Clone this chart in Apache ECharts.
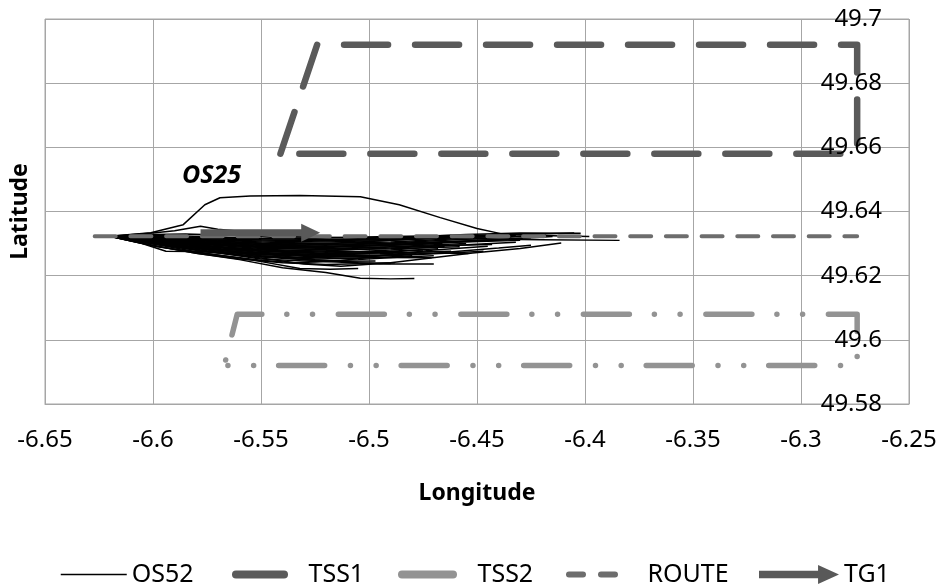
<!DOCTYPE html>
<html>
<head>
<meta charset="utf-8">
<title>OS52 tracks</title>
<script src="https://cdn.jsdelivr.net/npm/echarts@6/dist/echarts.min.js"></script>
<style>
  html, body { margin: 0; padding: 0; background: #fff; }
  #chart { width: 944px; height: 586px; }
</style>
</head>
<body>
<div id="chart"></div>
<script>
// --- eixos (rótulos dos ticks) ---
const xTicks = [-6.65, -6.6, -6.55, -6.5, -6.45, -6.4, -6.35, -6.3, -6.25];
const yTicks = [49.58, 49.6, 49.62, 49.64, 49.66, 49.68, 49.7];

// --- zonas / rota / alvo  [lon, lat] ---
const tss1  = [[-6.541, 49.658], [-6.524, 49.692], [-6.274, 49.692], [-6.274, 49.658], [-6.541, 49.658]];
const tss2  = [[-6.567, 49.592], [-6.561, 49.608], [-6.274, 49.608], [-6.274, 49.592], [-6.567, 49.592]];
const route = [[-6.627, 49.6323], [-6.274, 49.6323]];
const tg1   = [[-6.578, 49.6334], [-6.527, 49.6334]];

// --- trajetórias OS52 (aprox.) ---
const os01 = [[-6.620, 49.6323], [-6.601, 49.6334], [-6.586, 49.6359], [-6.576, 49.6421], [-6.569, 49.6443], [-6.555, 49.6448], [-6.532, 49.6450], [-6.504, 49.6446], [-6.486, 49.6421], [-6.467, 49.6381], [-6.450, 49.6347], [-6.439, 49.6331], [-6.421, 49.6325], [-6.398, 49.6322]];
const os02 = [[-6.620, 49.6323], [-6.600, 49.6318], [-6.575, 49.6312], [-6.550, 49.6305], [-6.520, 49.6300], [-6.490, 49.6305], [-6.460, 49.6315], [-6.420, 49.6312], [-6.384, 49.6310]];
const os03 = [[-6.620, 49.6323], [-6.600, 49.6325], [-6.575, 49.6322], [-6.550, 49.6316], [-6.520, 49.6312], [-6.490, 49.6318], [-6.455, 49.6328], [-6.430, 49.6333], [-6.402, 49.6332]];
const os04 = [[-6.620, 49.6323], [-6.600, 49.6300], [-6.575, 49.6275], [-6.550, 49.6255], [-6.530, 49.6236], [-6.513, 49.6229], [-6.490, 49.6240], [-6.452, 49.6271], [-6.430, 49.6285], [-6.411, 49.6302]];
const os05 = [[-6.620, 49.6323], [-6.600, 49.6295], [-6.580, 49.6270], [-6.560, 49.6250], [-6.540, 49.6225], [-6.520, 49.6210], [-6.504, 49.6192], [-6.490, 49.6190], [-6.479, 49.6191]];
const os06 = [[-6.620, 49.6323], [-6.600, 49.6302], [-6.575, 49.6285], [-6.550, 49.6268], [-6.520, 49.6260], [-6.495, 49.6257], [-6.471, 49.6256]];
const os07 = [[-6.620, 49.6323], [-6.600, 49.6310], [-6.575, 49.6292], [-6.550, 49.6282], [-6.520, 49.6276], [-6.490, 49.6272], [-6.454, 49.6269]];
const os08 = [[-6.620, 49.6323], [-6.600, 49.6312], [-6.575, 49.6300], [-6.550, 49.6290], [-6.520, 49.6285], [-6.490, 49.6290], [-6.443, 49.6297]];
const os09 = [[-6.620, 49.6323], [-6.600, 49.6320], [-6.575, 49.6318], [-6.550, 49.6315], [-6.520, 49.6318], [-6.490, 49.6322], [-6.460, 49.6325], [-6.440, 49.6326]];
const os10 = [[-6.620, 49.6323], [-6.600, 49.6315], [-6.575, 49.6305], [-6.550, 49.6298], [-6.520, 49.6295], [-6.490, 49.6300], [-6.450, 49.6310], [-6.425, 49.6318]];
const os11 = [[-6.620, 49.6323], [-6.600, 49.6308], [-6.575, 49.6292], [-6.550, 49.6278], [-6.520, 49.6270], [-6.490, 49.6280], [-6.465, 49.6292]];
const os12 = [[-6.620, 49.6323], [-6.600, 49.6305], [-6.575, 49.6280], [-6.550, 49.6262], [-6.525, 49.6252], [-6.500, 49.6255], [-6.480, 49.6262]];
const os13 = [[-6.620, 49.6323], [-6.598, 49.6290], [-6.575, 49.6268], [-6.550, 49.6248], [-6.535, 49.6240], [-6.515, 49.6245], [-6.495, 49.6262], [-6.470, 49.6280], [-6.445, 49.6292]];
const os14 = [[-6.620, 49.6323], [-6.600, 49.6333], [-6.590, 49.6340], [-6.578, 49.6354], [-6.570, 49.6345], [-6.555, 49.6335], [-6.540, 49.6322], [-6.510, 49.6318], [-6.480, 49.6320], [-6.450, 49.6325], [-6.420, 49.6330], [-6.405, 49.6333]];
const os15 = [[-6.620, 49.6323], [-6.600, 49.6318], [-6.575, 49.6310], [-6.550, 49.6302], [-6.520, 49.6300], [-6.495, 49.6308], [-6.470, 49.6318], [-6.445, 49.6322]];
const os16 = [[-6.620, 49.6323], [-6.600, 49.6312], [-6.575, 49.6296], [-6.550, 49.6285], [-6.520, 49.6282], [-6.495, 49.6288], [-6.475, 49.6295], [-6.455, 49.6300]];
const os17 = [[-6.620, 49.6323], [-6.600, 49.6300], [-6.575, 49.6278], [-6.550, 49.6258], [-6.525, 49.6248], [-6.510, 49.6245], [-6.497, 49.6246]];
const os18 = [[-6.620, 49.6323], [-6.605, 49.6300], [-6.594, 49.6276], [-6.582, 49.6275], [-6.565, 49.6272], [-6.545, 49.6265], [-6.525, 49.6250], [-6.505, 49.6240], [-6.490, 49.6238]];
const os19 = [[-6.620, 49.6323], [-6.600, 49.6316], [-6.575, 49.6302], [-6.550, 49.6292], [-6.520, 49.6290], [-6.480, 49.6300], [-6.440, 49.6312], [-6.415, 49.6322]];
const os20 = [[-6.620, 49.6323], [-6.600, 49.6310], [-6.575, 49.6288], [-6.550, 49.6272], [-6.520, 49.6265], [-6.495, 49.6268], [-6.470, 49.6275], [-6.462, 49.6276]];
const os21 = [[-6.620, 49.6323], [-6.600, 49.6320], [-6.575, 49.6312], [-6.550, 49.6308], [-6.520, 49.6305], [-6.490, 49.6310], [-6.455, 49.6320], [-6.432, 49.6326]];
const os22 = [[-6.620, 49.6323], [-6.600, 49.6304], [-6.580, 49.6286], [-6.560, 49.6274], [-6.540, 49.6268], [-6.520, 49.6266], [-6.500, 49.6270], [-6.485, 49.6274]];
const os23 = [[-6.620, 49.6323], [-6.600, 49.6328], [-6.585, 49.6330], [-6.565, 49.6326], [-6.540, 49.6318], [-6.510, 49.6312], [-6.480, 49.6315], [-6.455, 49.6322]];
const os24 = [[-6.620, 49.6323], [-6.600, 49.6313], [-6.575, 49.6298], [-6.550, 49.6288], [-6.520, 49.6288], [-6.490, 49.6295], [-6.460, 49.6305], [-6.436, 49.6312]];
const os25 = [[-6.620, 49.6323], [-6.600, 49.6307], [-6.575, 49.6284], [-6.550, 49.6265], [-6.520, 49.6258], [-6.490, 49.6262], [-6.465, 49.6270], [-6.447, 49.6276]];
const os26 = [[-6.620, 49.6323], [-6.600, 49.6303], [-6.575, 49.6276], [-6.550, 49.6252], [-6.525, 49.6244], [-6.505, 49.6250], [-6.485, 49.6258], [-6.470, 49.6262]];
const os27 = [[-6.620, 49.6323], [-6.600, 49.6317], [-6.575, 49.6307], [-6.550, 49.6296], [-6.520, 49.6292], [-6.490, 49.6296], [-6.460, 49.6304], [-6.430, 49.6310]];
const os28 = [[-6.620, 49.6323], [-6.600, 49.6321], [-6.575, 49.6315], [-6.550, 49.6311], [-6.520, 49.6308], [-6.490, 49.6314], [-6.460, 49.6320], [-6.428, 49.6324]];
const os29 = [[-6.620, 49.6323], [-6.600, 49.6309], [-6.575, 49.6290], [-6.550, 49.6275], [-6.520, 49.6268], [-6.495, 49.6272], [-6.475, 49.6280]];
const os30 = [[-6.620, 49.6323], [-6.600, 49.6314], [-6.575, 49.6300], [-6.550, 49.6288], [-6.520, 49.6280], [-6.490, 49.6284], [-6.458, 49.6290]];
const os31 = [[-6.620, 49.6323], [-6.598, 49.6298], [-6.575, 49.6274], [-6.550, 49.6260], [-6.525, 49.6256], [-6.500, 49.6262], [-6.470, 49.6270], [-6.440, 49.6286], [-6.425, 49.6295]];
const os32 = [[-6.620, 49.6323], [-6.602, 49.6296], [-6.580, 49.6270], [-6.560, 49.6252], [-6.540, 49.6240], [-6.520, 49.6235], [-6.500, 49.6238], [-6.488, 49.6240]];
const os33 = [[-6.620, 49.6323], [-6.600, 49.6319], [-6.575, 49.6309], [-6.550, 49.6300], [-6.520, 49.6297], [-6.490, 49.6302], [-6.460, 49.6312], [-6.440, 49.6318], [-6.418, 49.6326]];
const os34 = [[-6.620, 49.6323], [-6.600, 49.6311], [-6.575, 49.6294], [-6.550, 49.6280], [-6.520, 49.6273], [-6.490, 49.6276], [-6.468, 49.6284]];
const os35 = [[-6.620, 49.6323], [-6.600, 49.6322], [-6.575, 49.6317], [-6.550, 49.6312], [-6.520, 49.6310], [-6.490, 49.6312], [-6.460, 49.6318], [-6.438, 49.6322]];
const os36 = [[-6.620, 49.6323], [-6.600, 49.6306], [-6.575, 49.6282], [-6.550, 49.6270], [-6.520, 49.6262], [-6.495, 49.6264], [-6.478, 49.6268]];
const os37 = [[-6.620, 49.6323], [-6.600, 49.6301], [-6.575, 49.6283], [-6.545, 49.6276], [-6.520, 49.6278], [-6.490, 49.6286], [-6.455, 49.6296], [-6.432, 49.6304]];
const os38 = [[-6.620, 49.6323], [-6.600, 49.6316], [-6.575, 49.6304], [-6.550, 49.6294], [-6.520, 49.6290], [-6.495, 49.6293], [-6.466, 49.6300]];
const os39 = [[-6.620, 49.6323], [-6.600, 49.6299], [-6.578, 49.6272], [-6.555, 49.6250], [-6.532, 49.6222], [-6.518, 49.6220], [-6.505, 49.6222]];
const os40 = [[-6.620, 49.6323], [-6.600, 49.6306], [-6.575, 49.6286], [-6.550, 49.6262], [-6.520, 49.6244], [-6.495, 49.6236], [-6.470, 49.6236]];
const osTracks = [os01, os02, os03, os04, os05, os06, os07, os08, os09, os10, os11, os12, os13,
                  os14, os15, os16, os17, os18, os19, os20, os21, os22, os23, os24, os25, os26,
                  os27, os28, os29, os30, os31, os32, os33, os34, os35, os36, os37, os38, os39, os40];

(function(){
  const $ = (sel, el=document) => el.querySelector(sel);
  const FONT = '"Noto Sans", sans-serif';
  const GRID_C = '#a6a6a6';
  const FS = 24;
  const fmt = v => String(+v.toFixed(2));

  const chart = echarts.init($('#chart'), null, { renderer: 'canvas' });

  // trajetórias: uma série por navio, todas com o mesmo nome p/ legenda
  const trackSeries = osTracks.map(t => ({
    name: 'OS52', type: 'line', data: t, symbol: 'none', silent: true,
    lineStyle: { color: '#000', width: 1.5 }, itemStyle: { color: '#000' }, z: 2
  }));

  const arrowData = tg1.map((p, i) => i === tg1.length - 1
    ? { value: p, symbol: 'triangle', symbolSize: [18, 19], symbolRotate: -90 }
    : { value: p });

  // legenda: uma por item, p/ posicionar como no Excel
  const mkLegend = (left, w, pad, item, extra={}) => Object.assign({
    top: 557, left, itemWidth: w, itemHeight: 16, selectedMode: false,
    textStyle: { fontSize: 25, color: '#000', fontFamily: FONT },
    itemStyle: { opacity: 0 },
    formatter: n => pad + n,
    data: [item]
  }, extra);

  chart.setOption({
    animation: false,
    textStyle: { fontFamily: FONT, color: '#000' },
    grid: { left: 45, right: 35, top: 19, bottom: 182, show: true, borderColor: GRID_C, borderWidth: 1 },
    xAxis: {
      type: 'value', min: xTicks[0], max: xTicks[xTicks.length - 1], interval: 0.05,
      name: 'Longitude', nameLocation: 'middle', nameGap: 78,
      nameTextStyle: { fontSize: FS - 1, fontWeight: 'bold', color: '#000' },
      axisLine: { lineStyle: { color: GRID_C } }, axisTick: { show: false },
      axisLabel: { fontSize: FS, color: '#000', margin: 24, formatter: fmt },
      splitLine: { lineStyle: { color: GRID_C, width: 1 } }
    },
    yAxis: [{
      type: 'value', position: 'left', min: yTicks[0], max: yTicks[yTicks.length - 1], interval: 0.02,
      name: 'Latitude', nameLocation: 'middle', nameGap: 13, nameRotate: 90,
      nameTextStyle: { fontSize: FS - 1, fontWeight: 'bold', color: '#000' },
      axisLine: { show: false }, axisTick: { show: false }, axisLabel: { show: false },
      splitLine: { lineStyle: { color: GRID_C, width: 1 } }
    }, {
      // só os rótulos, por cima das séries (como no Excel)
      type: 'value', position: 'right', min: yTicks[0], max: yTicks[yTicks.length - 1], interval: 0.02,
      axisLine: { show: false }, axisTick: { show: false }, splitLine: { show: false }, z: 10,
      axisLabel: { fontSize: FS, color: '#000', margin: -27, align: 'right', formatter: fmt }
    }],
    legend: [
      mkLegend(55, 66, '', { name: 'OS52', lineStyle: { width: 1.5, color: '#000' } }),
      mkLegend(227, 48, '   ', { name: 'TSS1', lineStyle: { width: 8, type: 'solid', cap: 'round' } }),
      mkLegend(393, 51, '   ', { name: 'TSS2', lineStyle: { width: 8, type: 'solid', cap: 'round' } }),
      mkLegend(561, 54, '   ', { name: 'ROUTE', lineStyle: { width: 6, type: [14, 18], cap: 'round' } }),
      mkLegend(754, 80, '', { name: 'TG1', icon: 'path://M0,6 L62,6 L62,0 L84,10 L62,20 L62,14 L0,14 Z' },
        { itemHeight: 20, itemStyle: { opacity: 1 } })
    ],
    graphic: [{
      type: 'text', left: 182, top: 163,
      style: { text: 'OS25', font: 'italic bold 25px "Noto Sans", sans-serif', fill: '#000' }
    }],
    series: trackSeries.concat([
      { name: 'ROUTE', type: 'line', data: route, symbol: 'none', silent: true, z: 3,
        lineStyle: { color: '#6d6d6d', width: 4, type: [21, 14.7], cap: 'round' }, itemStyle: { color: '#6d6d6d' } },
      { name: 'TG1', type: 'line', data: arrowData, symbol: 'none', showSymbol: true, silent: true, z: 3,
        lineStyle: { color: '#595959', width: 7 }, itemStyle: { color: '#595959', opacity: 1 } },
      { name: 'TSS1', type: 'line', data: tss1, symbol: 'none', silent: true, z: 3,
        lineStyle: { color: '#5a5a5a', width: 6.5, type: [44, 27], cap: 'round', join: 'round' }, itemStyle: { color: '#5a5a5a' } },
      { name: 'TSS2', type: 'line', data: tss2, symbol: 'none', silent: true, z: 3,
        lineStyle: { color: '#939393', width: 5.5, type: [46, 25, 0.01, 25.7, 0.01, 25.8], dashOffset: 91, cap: 'round', join: 'round' },
        itemStyle: { color: '#939393' } }
    ])
  });
})();
</script>
</body>
</html>
